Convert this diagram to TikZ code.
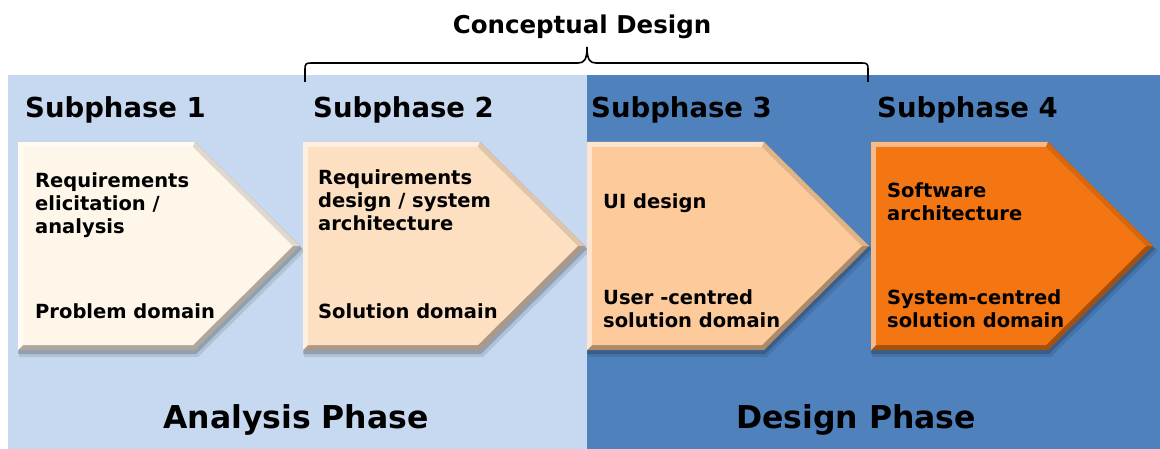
\documentclass[tikz,border=0pt]{standalone}
\usepackage{fontspec}
\setmainfont{DejaVu Sans}
\definecolor{lightbg}{HTML}{C6D9F0}
\definecolor{darkbg}{HTML}{4F81BD}
\definecolor{cA}{HTML}{FEF6E8}
\definecolor{cB}{HTML}{FDE0C2}
\definecolor{cC}{HTML}{FDCB9B}
\definecolor{cD}{HTML}{F37613}
\newcommand{\chevshape}[2]{%
 \begin{scope}[shift={(#1,0)}]
  \fill[black,opacity=0.10] (1,145)--(180,145)--(287,251)--(180,357)--(1,357)--cycle;
  \fill[black,opacity=0.18] (0,143)--(178,143)--(284,249)--(178,354)--(0,354)--cycle;
  \fill[#2!68!black] (0,142)--(177,142)--(282,246)--(177,350)--(0,350)--cycle;
  \fill[#2!50!white] (0,142)--(177,142)--(175,147)--(5,147)--(5,345)--(0,350)--cycle;
  \fill[#2!88!black] (177,142)--(282,246)--(275,246)--(175,147)--cycle;
  \fill[#2] (5,147)--(175,147)--(275,246)--(175,345)--(5,345)--cycle;
 \end{scope}}
\newcommand{\stacked}[1]{\vtop{\halign{##\hfil\cr#1\crcr}}}
\begin{document}
\begin{tikzpicture}[x=1pt,y=-1pt,
  conc/.style={font=\fontsize{24.5}{28}\selectfont\bfseries, inner sep=0pt},
  sub/.style={font=\fontsize{27.5}{32}\selectfont\bfseries, inner sep=0pt, anchor=base west},
  body/.style={font=\fontsize{19.5}{23}\selectfont\bfseries, inner sep=0pt, anchor=base west},
  phase/.style={font=\fontsize{31.5}{36}\selectfont\bfseries, inner sep=0pt, anchor=base},
  brace/.style={line width=1.6pt, black}]
\useasboundingbox (0,0) rectangle (1160,449);
\fill[white] (0,0) rectangle (1160,449);
\fill[lightbg] (8,75) rectangle (587,449);
\fill[darkbg] (587,75) rectangle (1160,449);

% brace
\coordinate (bl) at (305,82);
\coordinate (bm) at (587,47);
\coordinate (br) at (868,82);
\draw[brace] (bl) -- (305,69) .. controls (305,64) and (306,63) .. (311,63) -- (578,63)
  .. controls (584,63) and (587,60) .. (bm)
  .. controls (587,60) and (590,63) .. (596,63) -- (862,63)
  .. controls (867,63) and (868,64) .. (868,69) -- (br);
\node[conc, anchor=base] (concept) at (582,34) {Conceptual Design};

% subphase titles
\node[sub] (s1) at (25,118) {Subphase 1};
\node[sub] (s2) at (313,118) {Subphase 2};
\node[sub] (s3) at (591,118) {Subphase 3};
\node[sub] (s4) at (877,118) {Subphase 4};

% chevrons
\chevshape{18}{cA}
\chevshape{303}{cB}
\chevshape{587}{cC}
\chevshape{871}{cD}

\node[body] (t1a) at (35,188) {\stacked{Requirements\cr elicitation /\cr analysis}};
\node[body] (t1b) at (35,319) {Problem domain};
\node[body] (t2a) at (318,185) {\stacked{Requirements\cr design / system\cr architecture}};
\node[body] (t2b) at (318,319) {Solution domain};
\node[body] (t3a) at (603,209) {UI design};
\node[body] (t3b) at (603,305) {\stacked{User -centred\cr solution domain}};
\node[body] (t4a) at (887,198) {\stacked{Software\cr architecture}};
\node[body] (t4b) at (887,305) {\stacked{System-centred\cr solution domain}};

% phases
\node[phase] (ap) at (296,428) {Analysis Phase};
\node[phase] (dp) at (856,428) {Design Phase};
\end{tikzpicture}
\end{document}
